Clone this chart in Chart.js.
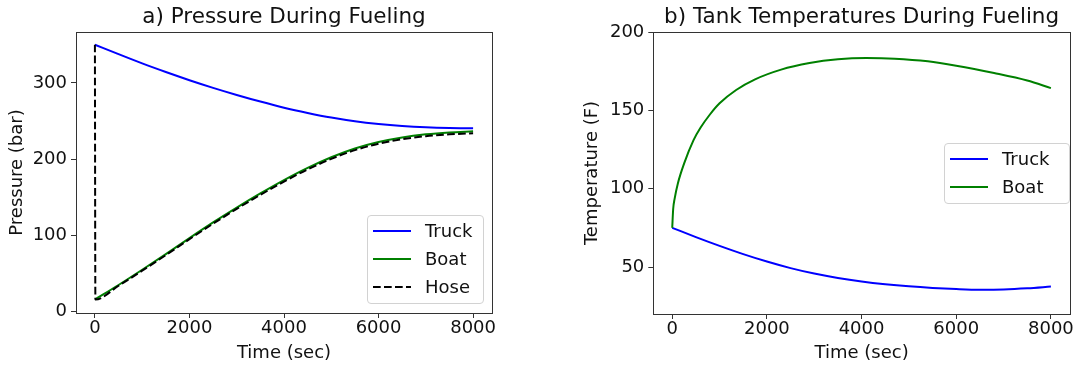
<!DOCTYPE html>
<html>
<head>
<meta charset="utf-8">
<script src="https://cdn.jsdelivr.net/npm/chart.js@4.4.0/dist/chart.umd.min.js"></script>
<style>
    body { margin: 0; background: #fff; width: 1074px; height: 367px; overflow: hidden; position: relative; font-family: 'DejaVu Sans', sans-serif; }
    .panel { position: absolute; top: 0; }
    .legend {
        position: absolute;
        box-sizing: border-box;
        border: 1px solid #d2d2d2;
        border-radius: 4px;
        background: rgba(255, 255, 255, 0.8);
        padding: 1px 0 0 5px;
        font-size: 18px;
        color: #111;
    }
    .legend .row { display: flex; align-items: center; height: 28px; line-height: 28px; white-space: nowrap; }
    .legend svg { margin-right: 14px; flex: none; }
</style>
</head>
<body>
<div class="panel" style="left:0px"><canvas id="pressureChart" width="520" height="367"></canvas></div>
<div class="panel" style="left:540px"><canvas id="tempChart" width="534" height="367"></canvas></div>
<div id="pressureLegend" class="legend" style="left:367px; top:215px; width:117px; height:89px"></div>
<div id="tempLegend" class="legend" style="left:944px; top:143px; width:126px; height:61px"></div>
<script>
// a) pressure during fueling (bar)
const pressureTime = [0, 500, 1000, 1500, 2000, 2500, 3000, 3500, 4000, 4500, 5000, 5500, 6000, 6500, 7000, 7500, 8000];
const truckPressure = [350, 337.6, 325.5, 314.2, 303.5, 293.5, 284.2, 275.5, 267.5, 260.6, 254.5, 249.6, 246.0, 243.4, 241.7, 240.8, 240.5];
const boatPressure = [16, 35, 55, 75.5, 96.5, 117, 136.5, 155, 172.5, 188.5, 202.5, 214, 222.5, 228.5, 232.5, 235, 236.5];
const hoseTime = [0, 10, 500, 1000, 1500, 2000, 2500, 3000, 3500, 4000, 4500, 5000, 5500, 6000, 6500, 7000, 7500, 8000];
const hosePressure = [350, 16, 34, 53.8, 74.2, 95.1, 115.4, 134.8, 153.2, 170.6, 186.5, 200.4, 211.8, 220.2, 226.1, 230.1, 232.5, 234];

// b) tank temperatures (F)
const truckTempTime = [0, 500, 1000, 1500, 2000, 2500, 3000, 3500, 4000, 4500, 5000, 5500, 6000, 6500, 7000, 7500, 8000];
const truckTemp = [75, 69.1, 63.5, 58.25, 53.5, 49.3, 45.8, 43.0, 40.75, 39.0, 37.65, 36.65, 35.95, 35.55, 35.7, 36.4, 37.5];
const boatTempTime = [0, 20, 50, 120, 250, 450, 600, 800, 1000, 1350, 1750, 2300, 2900, 3500, 4100, 4700, 5400, 6000, 6800, 7500, 8000];
const boatTemp = [75, 87, 93.5, 103.5, 116, 131, 139, 147.5, 154.5, 163, 169.8, 176, 180.2, 182.6, 183.4, 183.0, 181.3, 178.5, 173.8, 169, 164.2];

// tick labels
const timeTicks = [0, 2000, 4000, 6000, 8000];
const pressureTicks = [0, 100, 200, 300];
const tempTicks = [50, 100, 150, 200];

Chart.defaults.font.family = "'DejaVu Sans', sans-serif";
Chart.defaults.font.size = 18;
Chart.defaults.color = '#111';

function toPoints(xs, ys) {
    return xs.map((x, i) => ({ x: x, y: ys[i] }));
}

// draw the full box around the plot area like matplotlib spines
const frame = {
    id: 'frame',
    afterDatasetsDraw(chart) {
        const a = chart.chartArea;
        const ctx = chart.ctx;
        ctx.save();
        ctx.strokeStyle = '#333';
        ctx.lineWidth = 1;
        ctx.strokeRect(Math.round(a.left) + 0.5, Math.round(a.top) + 0.5, Math.round(a.right - a.left), Math.round(a.bottom - a.top));
        ctx.restore();
    }
};

function lineSet(label, points, color, order, dash) {
    return {
        label: label,
        data: points,
        borderColor: color,
        backgroundColor: color,
        borderWidth: 2,
        borderDash: dash || [],
        pointRadius: 0,
        fill: false,
        cubicInterpolationMode: 'monotone',
        order: order
    };
}

function axisOpts(opts) {
    return {
        type: 'linear',
        min: opts.min,
        max: opts.max,
        afterBuildTicks: scale => { scale.ticks = opts.ticks.map(v => ({ value: v })); },
        afterFit: scale => {
            if (opts.width) scale.width = opts.width;
            if (opts.height) scale.height = opts.height;
        },
        border: { display: false },
        grid: { drawOnChartArea: false, drawTicks: true, tickLength: 5, tickColor: '#333', tickWidth: 1 },
        ticks: { padding: opts.tickPad, maxRotation: 0, autoSkip: false, callback: v => String(v) },
        title: { display: true, text: opts.title, padding: opts.titlePad, font: { size: 18 } }
    };
}

function createChart(ctx, title, datasets, x, y, rightPad) {
    return new Chart(ctx, {
        type: 'line',
        data: { datasets: datasets },
        options: {
            responsive: false,
            animation: false,
            layout: { padding: { left: 0, right: rightPad, top: 0, bottom: 0 } },
            plugins: {
                legend: { display: false },
                tooltip: { enabled: false },
                title: {
                    display: true,
                    text: title,
                    fullSize: false,
                    font: { size: 21.5, weight: 'normal' },
                    color: '#111',
                    padding: { top: 4.4, bottom: 1.8 }
                }
            },
            scales: { x: x, y: y }
        },
        plugins: [frame]
    });
}

function makeLegend(el, chart) {
    chart.data.datasets.forEach(ds => {
        const row = document.createElement('div');
        row.className = 'row';
        const dash = ds.borderDash.length ? ` stroke-dasharray="${ds.borderDash.join(' ')}"` : '';
        row.innerHTML = `<svg width="38" height="4"><line x1="0" y1="2" x2="38" y2="2" stroke="${ds.borderColor}" stroke-width="2"${dash}/></svg><span>${ds.label}</span>`;
        el.appendChild(row);
    });
}

const pressureChart = createChart(
    document.getElementById('pressureChart').getContext('2d'),
    'a) Pressure During Fueling',
    [
        lineSet('Truck', toPoints(pressureTime, truckPressure), '#0000ff', 2),
        lineSet('Boat', toPoints(pressureTime, boatPressure), '#008000', 1),
        lineSet('Hose', toPoints(hoseTime, hosePressure), '#000000', 0, [7.7, 3.3])
    ],
    axisOpts({ min: -400, max: 8400, ticks: timeTicks, height: 54, tickPad: 0, title: 'Time (sec)', titlePad: { top: 0, bottom: 3.2 } }),
    axisOpts({ min: -1.7, max: 366.7, ticks: pressureTicks, width: 76, tickPad: 4, title: 'Pressure (bar)', titlePad: { top: 6.5, bottom: 0 } }),
    28
);

const tempChart = createChart(
    document.getElementById('tempChart').getContext('2d'),
    'b) Tank Temperatures During Fueling',
    [
        lineSet('Truck', toPoints(truckTempTime, truckTemp), '#0000ff', 1),
        lineSet('Boat', toPoints(boatTempTime, boatTemp), '#008000', 0)
    ],
    axisOpts({ min: -400, max: 8400, ticks: timeTicks, height: 53, tickPad: 0, title: 'Time (sec)', titlePad: { top: 0, bottom: 3.2 } }),
    axisOpts({ min: 20, max: 200, ticks: tempTicks, width: 113.3, tickPad: 4, title: 'Temperature (F)', titlePad: { top: 41.9, bottom: 0 } }),
    3.3
);

makeLegend(document.getElementById('pressureLegend'), pressureChart);
makeLegend(document.getElementById('tempLegend'), tempChart);
</script>
</body>
</html>
